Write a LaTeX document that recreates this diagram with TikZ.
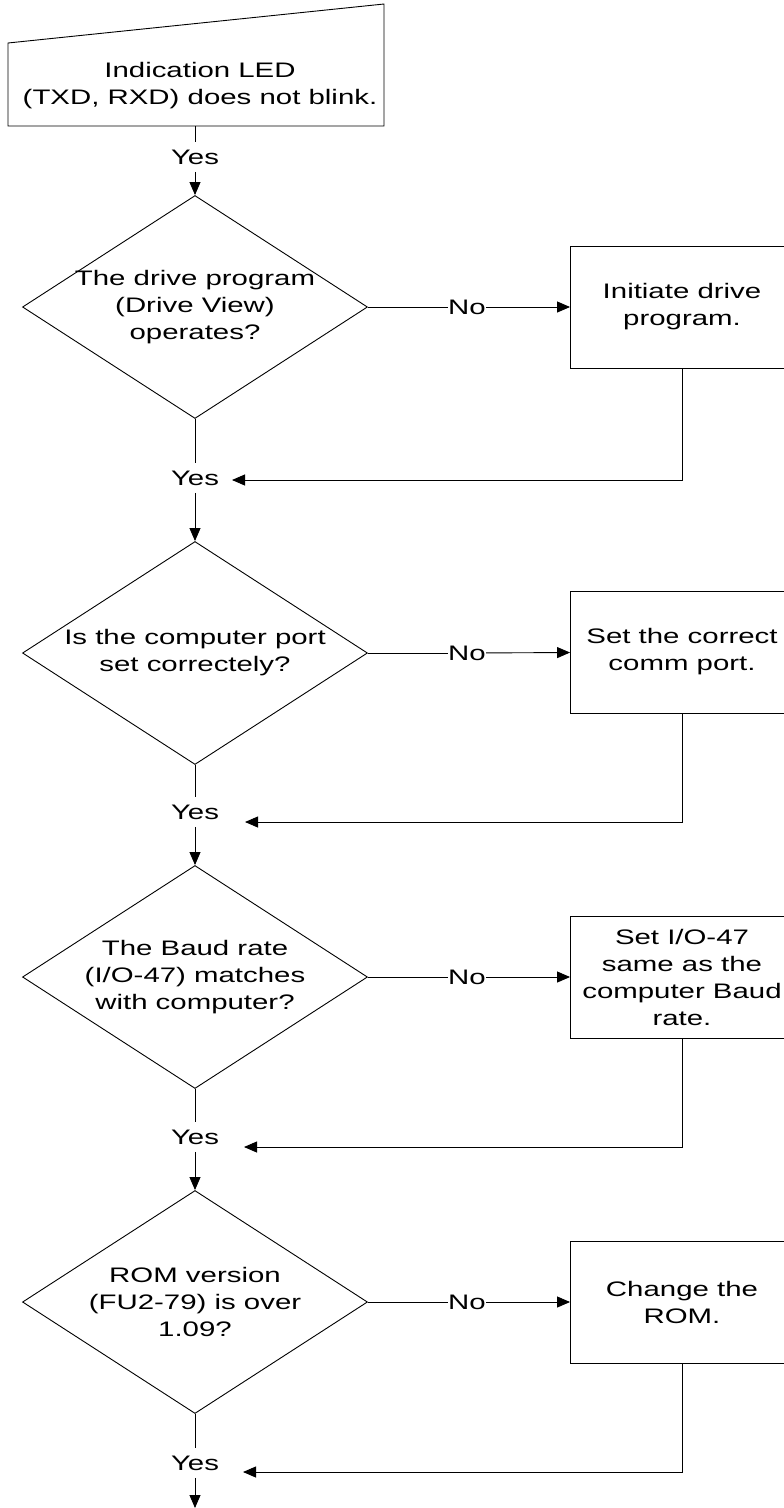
\documentclass[tikz,border=0pt]{standalone}
\usepackage{fontspec}
\setmainfont{Liberation Sans}[FakeStretch=1.4]
\usetikzlibrary{arrows.meta,positioning,calc,shapes.geometric}

\begin{document}
\begin{tikzpicture}[x=1pt,y=-1pt,
  font=\fontsize{21}{27}\selectfont,line width=0.9pt,
  decision/.style={draw,diamond,aspect=1.55,minimum width=345pt,minimum height=223pt,inner sep=-6pt,align=center},
  process/.style={draw,rectangle,minimum width=223pt,minimum height=122pt,inner sep=0pt,align=center},
  answer/.style={inner xsep=1pt,inner ysep=7pt},
  refuse/.style={inner xsep=0pt},
  arr/.style={-{Triangle[length=13pt,width=11pt]}}]
  \useasboundingbox (0,0) rectangle (784,1508);
  \clip (0,0) rectangle (784,1508);
  % start
  \draw (8,43) -- (384,4) -- (384,126) -- (8,126) -- cycle;
  \node[align=center] (led) at (200,86) {Indication LED\\(TXD, RXD) does not blink.};
  \coordinate (ledb) at (195,126);
  \node[answer] (ok0) at (195,157) {Yes};
  % first check
  \node[decision] (q1) at (195,307) {The drive program\\(Drive View)\\operates?};
  \node[refuse] (no1) at (467,307) {No};
  \node[process] (fix1) at (682,307) {Initiate drive\\program.};
  \node[answer] (ok1) at (195,478) {Yes};
  \coordinate (back1) at (232,480);
  % second check
  \node[decision] (q2) at (195,653) {Is the computer port\\set correctely?};
  \node[refuse] (no2) at (467,653) {No};
  \node[process] (fix2) at (682,652) {Set the correct\\comm port.};
  \node[answer] (ok2) at (195,812) {Yes};
  \coordinate (back2) at (245,822);
  % third check
  \node[decision] (q3) at (195,977) {The Baud rate\\(I/O-47) matches\\with computer?};
  \node[refuse] (no3) at (467,977) {No};
  \node[process] (fix3) at (682,977) {Set I/O-47\\same as the\\computer Baud\\rate.};
  \node[answer] (ok3) at (195,1137) {Yes};
  \coordinate (back3) at (244,1147);
  % fourth check
  \node[decision] (q4) at (195,1302) {ROM version\\(FU2-79) is over\\1.09?};
  \node[refuse] (no4) at (467,1302) {No};
  \node[process] (fix4) at (682,1302) {Change the\\ROM.};
  \node[answer] (ok4) at (195,1463) {Yes};
  \coordinate (back4) at (243,1472);
  \coordinate (tail) at (195,1508);
  % connectors
  \draw (ledb) -- (ok0);
  \draw[arr] (ok0) -- (q1);
  \foreach \i/\j in {1/2,2/3,3/4} {
    \draw (q\i) -- (no\i);
    \draw[arr] (no\i) -- (fix\i);
    \draw (q\i) -- (ok\i);
    \draw[arr] (fix\i) |- (back\i);
    \draw[arr] (ok\i) -- (q\j);
  }
  \draw (q4) -- (no4);
  \draw[arr] (no4) -- (fix4);
  \draw (q4) -- (ok4);
  \draw[arr] (fix4) |- (back4);
  \draw[arr] (ok4) -- (tail);
\end{tikzpicture}
\end{document}
